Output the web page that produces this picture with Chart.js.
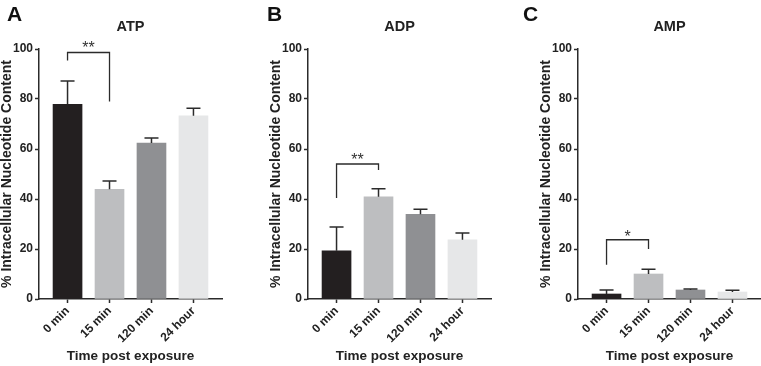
<!DOCTYPE html>
<html>
<head>
<meta charset="utf-8">
<script src="https://cdn.jsdelivr.net/npm/chart.js@4/dist/chart.umd.min.js"></script>
<style>
    html, body { margin: 0; padding: 0; background: #fff; }
    body { width: 761px; height: 366px; position: relative; overflow: hidden; }
    canvas { position: absolute; top: 0; }
</style>
</head>
<body>
<canvas id="atp" width="254" height="366" style="left:0px"></canvas>
<canvas id="adp" width="260" height="366" style="left:262px"></canvas>
<canvas id="amp" width="243" height="366" style="left:518px"></canvas>
<script>
const timePoints = ['0 min', '15 min', '120 min', '24 hour'];
const yTicks = [0, 20, 40, 60, 80, 100];
const barColors = ['#231f20', '#bdbec0', '#8f9093', '#e6e7e8'];

const atpMean = [77.9, 43.9, 62.4, 73.3];
const atpSem = [9.3, 3.3, 2.0, 3.0];
const adpMean = [19.3, 40.9, 33.9, 23.7];
const adpSem = [9.5, 3.2, 2.0, 2.7];
const ampMean = [2.0, 10.0, 3.6, 2.8];
const ampSem = [1.6, 1.9, 0.4, 0.7];

// significance brackets, in data units
const atpSig = { from: 0, to: 1, top: 98.6, leftEnd: 95.4, rightEnd: 79, labelAt: 102, label: '**' };
const adpSig = { from: 0, to: 1, top: 54, leftEnd: 40.4, rightEnd: 51.6, labelAt: 57.2, label: '**' };
const ampSig = { from: 0, to: 1, top: 23.7, leftEnd: 13.7, rightEnd: 20, labelAt: 26.5, label: '*' };

const axisColor = '#2b2b2b';
const textColor = '#222';
const fontFamily = '"Liberation Sans", Arial, sans-serif';

function makePanel(id, letter, letterX, title, means, sems, sig, padLeft, padRight) {
    const annotations = {
        id: 'annotations',
        afterDatasetsDraw(chart) {
            const ctx = chart.ctx;
            const x = chart.scales.x;
            const y = chart.scales.y;
            const meta = chart.getDatasetMeta(0);
            ctx.save();
            ctx.strokeStyle = axisColor;
            ctx.lineWidth = 1.5;
            meta.data.forEach((bar, i) => {
                const top = y.getPixelForValue(means[i] + sems[i]);
                ctx.beginPath();
                ctx.moveTo(bar.x, bar.y);
                ctx.lineTo(bar.x, top);
                ctx.moveTo(bar.x - 7, top);
                ctx.lineTo(bar.x + 7, top);
                ctx.stroke();
            });

            const x1 = x.getPixelForValue(sig.from);
            const x2 = x.getPixelForValue(sig.to);
            const yt = y.getPixelForValue(sig.top);
            ctx.lineWidth = 1.3;
            ctx.beginPath();
            ctx.moveTo(x1, y.getPixelForValue(sig.leftEnd));
            ctx.lineTo(x1, yt);
            ctx.lineTo(x2, yt);
            ctx.lineTo(x2, y.getPixelForValue(sig.rightEnd));
            ctx.stroke();

            ctx.fillStyle = '#333';
            ctx.textAlign = 'center';
            ctx.textBaseline = 'alphabetic';
            ctx.font = '16px ' + fontFamily;
            ctx.fillText(sig.label, (x1 + x2) / 2, y.getPixelForValue(sig.labelAt) + 9);

            const area = chart.chartArea;
            ctx.fillStyle = textColor;
            ctx.font = 'bold 14.5px ' + fontFamily;
            ctx.textBaseline = 'middle';
            ctx.fillText(title, (area.left + area.right) / 2, 27);

            ctx.fillStyle = '#111';
            ctx.textAlign = 'left';
            ctx.textBaseline = 'alphabetic';
            ctx.font = 'bold 21px ' + fontFamily;
            ctx.fillText(letter, letterX, 21);
            ctx.restore();
        }
    };

    return new Chart(document.getElementById(id), {
        type: 'bar',
        data: {
            datasets: [{
                data: means.map((v, i) => ({ x: i, y: v })),
                backgroundColor: barColors,
                borderWidth: 0,
                barThickness: 29,
            }],
        },
        options: {
            responsive: false,
            animation: false,
            layout: { padding: { top: 49, left: padLeft, right: padRight, bottom: 0 } },
            plugins: { legend: { display: false }, tooltip: { enabled: false } },
            scales: {
                x: {
                    type: 'linear',
                    offset: false,
                    min: -0.68,
                    max: 3.68,
                    afterBuildTicks: (s) => { s.ticks = timePoints.map((_, i) => ({ value: i })); },
                    afterFit: (s) => { s.height = 67; },
                    ticks: {
                        callback: (v) => timePoints[v],
                        autoSkip: false,
                        minRotation: 45,
                        maxRotation: 45,
                        padding: 1,
                        color: textColor,
                        font: { family: fontFamily, size: 12, weight: 'bold' },
                    },
                    grid: { offset: false, drawOnChartArea: false, tickLength: 4, tickColor: axisColor, tickWidth: 1.5 },
                    border: { color: axisColor, width: 1.5 },
                    title: {
                        display: true,
                        text: 'Time post exposure',
                        color: textColor,
                        font: { family: fontFamily, size: 13.5, weight: 'bold' },
                        padding: { top: 0, bottom: 2 },
                    },
                },
                y: {
                    min: 0,
                    max: 100,
                    afterBuildTicks: (s) => { s.ticks = yTicks.map((v) => ({ value: v })); },
                    afterFit: (s) => { s.width = 39; },
                    ticks: {
                        padding: 2,
                        color: textColor,
                        font: { family: fontFamily, size: 12, weight: 'bold' },
                    },
                    grid: { drawOnChartArea: false, tickLength: 4, tickColor: axisColor, tickWidth: 1.5 },
                    border: { color: axisColor, width: 1.5 },
                    title: {
                        display: true,
                        text: '% Intracellular Nucleotide Content',
                        color: textColor,
                        font: { family: fontFamily, size: 14, weight: 'bold', lineHeight: 1 },
                        padding: { top: 0, bottom: 0 },
                    },
                },
            },
        },
        plugins: [annotations],
    });
}

makePanel('atp', 'A', 7, 'ATP', atpMean, atpSem, atpSig, 0, 32);
makePanel('adp', 'B', 5, 'ADP', adpMean, adpSem, adpSig, 7, 31);
makePanel('amp', 'C', 5, 'AMP', ampMean, ampSem, ampSig, 21, 0);
</script>
</body>
</html>
